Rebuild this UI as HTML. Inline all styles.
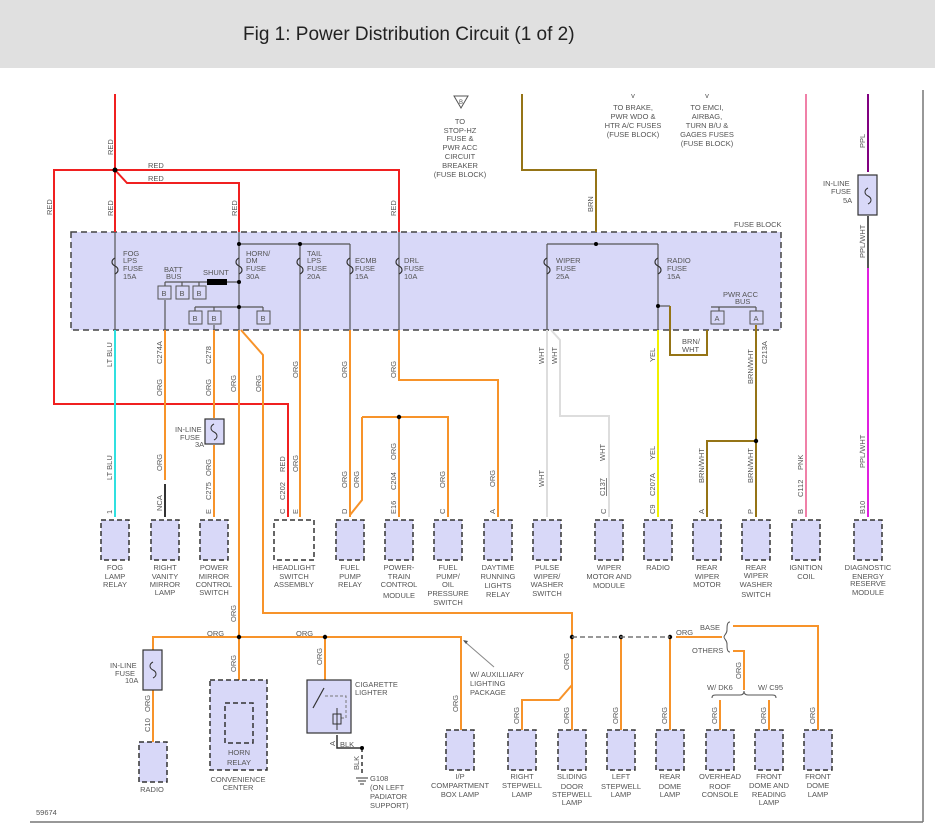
<!DOCTYPE html>
<html><head><meta charset="utf-8"><style>
body{margin:0;background:#fff}
svg{display:block}
text{font-family:"Liberation Sans",sans-serif;font-size:7.5px;fill:#555}
.t{text-anchor:middle}
.w{fill:none;stroke-width:2}
.g{fill:none;stroke:#555;stroke-width:1.2}
.bx{fill:#d8d8f8;stroke:#333;stroke-width:1.5;stroke-dasharray:5,3}
.bb{fill:#d8d8f8;stroke:#555;stroke-width:1}
</style></head><body>
<svg width="935" height="832" viewBox="0 0 935 832" xmlns="http://www.w3.org/2000/svg">
<rect x="0" y="0" width="935" height="68" fill="#e0e0e0"/>
<text x="243" y="40" style="font-size:19px;fill:#222">Fig 1: Power Distribution Circuit (1 of 2)</text>
<line x1="923" y1="90" x2="923" y2="822" stroke="#777" stroke-width="1.5"/>
<line x1="30" y1="822" x2="923" y2="822" stroke="#777" stroke-width="1.5"/>
<text x="36" y="815">59674</text>

<!-- fuse block -->
<rect x="71" y="232" width="710" height="98" fill="#d8d8f8" stroke="#444" stroke-width="1.5" stroke-dasharray="6,4"/>
<text x="734" y="227">FUSE BLOCK</text>

<!-- red wires -->
<g class="w" stroke="#f02020">
<path d="M115 94V232"/>
<path d="M115 170H399V232"/>
<path d="M115 170H54V404H288V517"/>
<path d="M115 170L127 183H239V232"/>
</g>
<circle cx="115" cy="170" r="2.5" fill="#000"/>
<text x="148" y="168">RED</text><text x="148" y="181">RED</text>
<g>
<text transform="translate(113,155) rotate(-90)">RED</text>
<text transform="translate(52,215) rotate(-90)">RED</text>
<text transform="translate(113,216) rotate(-90)">RED</text>
<text transform="translate(237,216) rotate(-90)">RED</text>
<text transform="translate(396,216) rotate(-90)">RED</text>
</g>

<!-- inside fuse block gray -->
<g class="g">
<path d="M115 232V330"/>
<path d="M239 232V330"/><path d="M239 244H350"/>
<path d="M300 244V330"/><path d="M350 244V330"/>
<path d="M399 232V330"/>
<path d="M165 282H239"/><path d="M165 282V288M182 282V288M199 282V288"/>
<path d="M165 300V330M214 325V330"/>
<path d="M195 307H263M195 307V311M214 307V311M263 307V311"/>
<path d="M547 244H658M547 244V330M658 244V330"/>
<path d="M658 306H670"/>
<path d="M711 307H756M719 307V311M756 307V311"/>
</g>
<rect x="207" y="279" width="20" height="6" fill="#000"/>
<g fill="#000">
<circle cx="239" cy="244" r="2"/><circle cx="300" cy="244" r="2"/><circle cx="239" cy="282" r="2"/><circle cx="239" cy="307" r="2"/>
<circle cx="596" cy="244" r="2"/><circle cx="658" cy="306" r="2"/>
</g>
<!-- fuse symbols -->
<g fill="none" stroke="#333" stroke-width="1.2">
<path d="M115 258c-4 2 -4 6 0 8c4 2 4 6 0 8"/>
<path d="M239 258c-4 2 -4 6 0 8c4 2 4 6 0 8"/>
<path d="M300 258c-4 2 -4 6 0 8c4 2 4 6 0 8"/>
<path d="M350 258c-4 2 -4 6 0 8c4 2 4 6 0 8"/>
<path d="M399 258c-4 2 -4 6 0 8c4 2 4 6 0 8"/>
<path d="M547 258c-4 2 -4 6 0 8c4 2 4 6 0 8"/>
<path d="M658 258c-4 2 -4 6 0 8c4 2 4 6 0 8"/>
</g>
<g class="bb"><rect x="158" y="286" width="13" height="13"/><rect x="176" y="286" width="13" height="13"/><rect x="193" y="286" width="13" height="13"/>
<rect x="189" y="311" width="13" height="13"/><rect x="208" y="311" width="13" height="13"/><rect x="257" y="311" width="13" height="13"/>
<rect x="711" y="311" width="13" height="13"/><rect x="750" y="311" width="13" height="13"/></g>
<g class="t"><text x="164" y="296">B</text><text x="182" y="296">B</text><text x="199" y="296">B</text>
<text x="195" y="321">B</text><text x="214" y="321">B</text><text x="263" y="321">B</text>
<text x="717" y="321">A</text><text x="756" y="321">A</text></g>
<text x="123" y="256">FOG</text><text x="123" y="263">LPS</text><text x="123" y="271">FUSE</text><text x="123" y="279">15A</text>
<text x="164" y="272">BATT</text><text x="166" y="279">BUS</text><text x="203" y="275">SHUNT</text>
<text x="246" y="256">HORN/</text><text x="246" y="263">DM</text><text x="246" y="271">FUSE</text><text x="246" y="279">30A</text>
<text x="307" y="256">TAIL</text><text x="307" y="263">LPS</text><text x="307" y="271">FUSE</text><text x="307" y="279">20A</text>
<text x="355" y="263">ECMB</text><text x="355" y="271">FUSE</text><text x="355" y="279">15A</text>
<text x="404" y="263">DRL</text><text x="404" y="271">FUSE</text><text x="404" y="279">10A</text>
<text x="556" y="263">WIPER</text><text x="556" y="271">FUSE</text><text x="556" y="279">25A</text>
<text x="667" y="263">RADIO</text><text x="667" y="271">FUSE</text><text x="667" y="279">15A</text>
<text x="723" y="297">PWR ACC</text><text x="735" y="304">BUS</text>

<!-- top texts -->
<path d="M454 96H468L461 108Z" fill="#fff" stroke="#555"/><text x="461" y="104" class="t" style="font-size:6px">B</text>
<g class="t"><text x="460" y="124">TO</text><text x="460" y="133">STOP-HZ</text><text x="460" y="141">FUSE &amp;</text><text x="460" y="150">PWR ACC</text><text x="460" y="159">CIRCUIT</text><text x="460" y="168">BREAKER</text><text x="460" y="177">(FUSE BLOCK)</text>
<text x="633" y="98">v</text><text x="633" y="110">TO BRAKE,</text><text x="633" y="119">PWR WDO &amp;</text><text x="633" y="128">HTR A/C FUSES</text><text x="633" y="137">(FUSE BLOCK)</text>
<text x="707" y="98">v</text><text x="707" y="110">TO EMCI,</text><text x="707" y="119">AIRBAG,</text><text x="707" y="128">TURN B/U &amp;</text><text x="707" y="137">GAGES FUSES</text><text x="707" y="146">(FUSE BLOCK)</text></g>

<!-- brown -->
<g class="w" stroke="#957416">
<path d="M522 94V170H596V232"/>
<path d="M670 306V355H707V330"/>
<path d="M756 325V517M756 441H707V517"/>
</g>
<circle cx="756" cy="441" r="2.2" fill="#000"/>
<text transform="translate(593,212) rotate(-90)">BRN</text>
<text x="682" y="344">BRN/</text><text x="682" y="352">WHT</text>
<text transform="translate(753,384) rotate(-90)">BRN/WHT</text>
<text transform="translate(767,364) rotate(-90)">C213A</text>
<text transform="translate(704,483) rotate(-90)">BRN/WHT</text>
<text transform="translate(753,483) rotate(-90)">BRN/WHT</text>

<!-- white -->
<g class="w" stroke="#ddd"><path d="M547 330V517"/><path d="M551 330L560 340V416H609V517"/></g>
<text transform="translate(544,364) rotate(-90)">WHT</text><text transform="translate(557,364) rotate(-90)">WHT</text>
<text transform="translate(544,487) rotate(-90)">WHT</text><text transform="translate(605,461) rotate(-90)">WHT</text>
<text transform="translate(605,496) rotate(-90)" style="text-decoration:underline">C137</text>

<!-- yellow -->
<path class="w" stroke="#f0f000" d="M658 330V517"/>
<text transform="translate(655,362) rotate(-90)">YEL</text><text transform="translate(655,460) rotate(-90)">YEL</text>
<text transform="translate(655,496) rotate(-90)">C207A</text>

<!-- pink / ppl -->
<path class="w" stroke="#f080a8" d="M806 94V517"/>
<path class="w" stroke="#800080" d="M868 94V172"/>
<path class="w" stroke="#555" d="M868 216V268"/>
<path class="w" stroke="#e020e0" d="M868 268V517"/>
<rect x="858" y="175" width="19" height="40" fill="#d8d8f8" stroke="#333" stroke-width="1.2"/>
<path d="M868 188c-4 2-4 6 0 8c4 2 4 6 0 8" fill="none" stroke="#333"/>
<text x="823" y="186">IN-LINE</text><text x="831" y="194">FUSE</text><text x="843" y="203">5A</text>
<text transform="translate(865,148) rotate(-90)">PPL</text>
<text transform="translate(865,258) rotate(-90)">PPL/WHT</text>
<text transform="translate(865,468) rotate(-90)">PPL/WHT</text>
<text transform="translate(803,470) rotate(-90)">PNK</text>
<text transform="translate(803,497) rotate(-90)">C112</text>

<!-- lt blu -->
<path class="w" stroke="#30e0e0" d="M115 330V517"/>
<text transform="translate(112,367) rotate(-90)">LT BLU</text><text transform="translate(112,480) rotate(-90)">LT BLU</text>

<!-- orange -->
<g class="w" stroke="#f7932a">
<path d="M165 330V480"/>
<path d="M214 330V418M214 445V517"/>
<path d="M239 330V639"/>
<path d="M241 330L263 355V613H572V685"/>
<path d="M300 330V517"/>
<path d="M350 330V517"/>
<path d="M399 330V380H498V517"/>
<path d="M362 417H448V517M362 417V500L350 515M399 417V517"/>
<path d="M153 650V637H461V730"/>
<path d="M153 690V742"/>
<path d="M239 639V702"/>
<path d="M325 637V680"/>
<path d="M572 685V730M572 685L559 700H522V730"/>
<path d="M621 637V730M670 637V730"/>
<path d="M676 637H722"/>
<path d="M733 626H818V730"/>
<path d="M733 651H744V690"/>
<path d="M720 700V730M769 700V730"/>
</g>
<path d="M165 484V517" stroke="#333" stroke-width="2"/>
<g fill="#000"><circle cx="399" cy="417" r="2.2"/><circle cx="239" cy="637" r="2.2"/><circle cx="325" cy="637" r="2.2"/>
<circle cx="572" cy="637" r="2.2"/><circle cx="621" cy="637" r="2.2"/><circle cx="670" cy="637" r="2.2"/></g>
<path d="M572 637H670" stroke="#777" stroke-width="1.5" stroke-dasharray="5,3"/>
<path d="M730 622c-3 0-3 4-3 8s-3 5-3 7c0 2 3 3 3 7s0 8 3 8" fill="none" stroke="#555"/>
<path d="M712 698c0-3 2-3 4-3H740c3 0 4-2 4-4c0 2 1 4 4 4H772c2 0 4 0 4 3" fill="none" stroke="#555"/>
<text x="700" y="630">BASE</text><text x="692" y="653">OTHERS</text><text x="676" y="635">ORG</text>
<text x="707" y="690">W/ DK6</text><text x="758" y="690">W/ C95</text>

<!-- inline fuse 3A -->
<rect x="205" y="419" width="19" height="25" fill="#d8d8f8" stroke="#333" stroke-width="1.2"/>
<path d="M214 424c-4 2-4 6 0 8c4 2 4 6 0 8" fill="none" stroke="#333"/>
<text x="175" y="432">IN-LINE</text><text x="180" y="440">FUSE</text><text x="195" y="447">3A</text>

<!-- orange labels -->
<g>
<text transform="translate(162,396) rotate(-90)">ORG</text><text transform="translate(162,364) rotate(-90)">C274A</text>
<text transform="translate(211,396) rotate(-90)">ORG</text><text transform="translate(211,364) rotate(-90)">C278</text>
<text transform="translate(236,392) rotate(-90)">ORG</text><text transform="translate(261,392) rotate(-90)">ORG</text>
<text transform="translate(298,378) rotate(-90)">ORG</text><text transform="translate(347,378) rotate(-90)">ORG</text>
<text transform="translate(396,378) rotate(-90)">ORG</text>
<text transform="translate(162,471) rotate(-90)">ORG</text><text transform="translate(162,511) rotate(-90)">NCA</text>
<text transform="translate(211,476) rotate(-90)">ORG</text><text transform="translate(211,500) rotate(-90)">C275</text>
<text transform="translate(285,472) rotate(-90)">RED</text><text transform="translate(298,472) rotate(-90)">ORG</text>
<text transform="translate(285,500) rotate(-90)">C202</text>
<text transform="translate(347,488) rotate(-90)">ORG</text><text transform="translate(359,488) rotate(-90)">ORG</text>
<text transform="translate(396,460) rotate(-90)">ORG</text><text transform="translate(396,490) rotate(-90)">C204</text>
<text transform="translate(445,488) rotate(-90)">ORG</text>
<text transform="translate(495,487) rotate(-90)">ORG</text>
<text transform="translate(236,622) rotate(-90)">ORG</text><text transform="translate(236,672) rotate(-90)">ORG</text>
<text transform="translate(322,665) rotate(-90)">ORG</text>
<text transform="translate(150,712) rotate(-90)">ORG</text><text transform="translate(150,732) rotate(-90)">C10</text>
<text transform="translate(458,712) rotate(-90)">ORG</text>
<text transform="translate(569,670) rotate(-90)">ORG</text><text transform="translate(569,724) rotate(-90)">ORG</text>
<text transform="translate(519,724) rotate(-90)">ORG</text><text transform="translate(618,724) rotate(-90)">ORG</text>
<text transform="translate(667,724) rotate(-90)">ORG</text><text transform="translate(717,724) rotate(-90)">ORG</text>
<text transform="translate(766,724) rotate(-90)">ORG</text><text transform="translate(815,724) rotate(-90)">ORG</text>
<text transform="translate(741,679) rotate(-90)">ORG</text>
</g>
<text x="207" y="636">ORG</text><text x="296" y="636">ORG</text>
<!-- pin letters -->
<g>
<text transform="translate(112,514) rotate(-90)">1</text><text transform="translate(211,514) rotate(-90)">E</text>
<text transform="translate(285,514) rotate(-90)">C</text><text transform="translate(298,514) rotate(-90)">E</text>
<text transform="translate(347,514) rotate(-90)">D</text><text transform="translate(396,514) rotate(-90)">E16</text>
<text transform="translate(445,514) rotate(-90)">C</text><text transform="translate(495,514) rotate(-90)">A</text>
<text transform="translate(606,514) rotate(-90)">C</text><text transform="translate(655,514) rotate(-90)">C9</text>
<text transform="translate(704,514) rotate(-90)">A</text><text transform="translate(753,514) rotate(-90)">P</text>
<text transform="translate(803,514) rotate(-90)">B</text><text transform="translate(865,514) rotate(-90)">B10</text>
</g>

<!-- component boxes row 1 -->
<g class="bx">
<rect x="101" y="520" width="28" height="40"/><rect x="151" y="520" width="28" height="40"/><rect x="200" y="520" width="28" height="40"/>
<rect x="274" y="520" width="40" height="40" style="fill:#fff"/>
<rect x="336" y="520" width="28" height="40"/><rect x="385" y="520" width="28" height="40"/><rect x="434" y="520" width="28" height="40"/>
<rect x="484" y="520" width="28" height="40"/><rect x="533" y="520" width="28" height="40"/><rect x="595" y="520" width="28" height="40"/>
<rect x="644" y="520" width="28" height="40"/><rect x="693" y="520" width="28" height="40"/><rect x="742" y="520" width="28" height="40"/>
<rect x="792" y="520" width="28" height="40"/><rect x="854" y="520" width="28" height="40"/>
</g>
<g class="t">
<text x="115" y="570">FOG</text><text x="115" y="579">LAMP</text><text x="115" y="587">RELAY</text>
<text x="165" y="570">RIGHT</text><text x="165" y="579">VANITY</text><text x="165" y="587">MIRROR</text><text x="165" y="595">LAMP</text>
<text x="214" y="570">POWER</text><text x="214" y="579">MIRROR</text><text x="214" y="587">CONTROL</text><text x="214" y="595">SWITCH</text>
<text x="294" y="570">HEADLIGHT</text><text x="294" y="579">SWITCH</text><text x="294" y="587">ASSEMBLY</text>
<text x="350" y="570">FUEL</text><text x="350" y="579">PUMP</text><text x="350" y="587">RELAY</text>
<text x="399" y="570">POWER-</text><text x="399" y="579">TRAIN</text><text x="399" y="587">CONTROL</text><text x="399" y="598">MODULE</text>
<text x="448" y="570">FUEL</text><text x="448" y="579">PUMP/</text><text x="448" y="587">OIL</text><text x="448" y="596">PRESSURE</text><text x="448" y="605">SWITCH</text>
<text x="498" y="570">DAYTIME</text><text x="498" y="579">RUNNING</text><text x="498" y="588">LIGHTS</text><text x="498" y="597">RELAY</text>
<text x="547" y="570">PULSE</text><text x="547" y="579">WIPER/</text><text x="547" y="587">WASHER</text><text x="547" y="596">SWITCH</text>
<text x="609" y="570">WIPER</text><text x="609" y="579">MOTOR AND</text><text x="609" y="588">MODULE</text>
<text x="658" y="570">RADIO</text>
<text x="707" y="570">REAR</text><text x="707" y="579">WIPER</text><text x="707" y="587">MOTOR</text>
<text x="756" y="570">REAR</text><text x="756" y="578">WIPER</text><text x="756" y="587">WASHER</text><text x="756" y="597">SWITCH</text>
<text x="806" y="570">IGNITION</text><text x="806" y="579">COIL</text>
<text x="868" y="570">DIAGNOSTIC</text><text x="868" y="579">ENERGY</text><text x="868" y="586">RESERVE</text><text x="868" y="595">MODULE</text>
</g>

<!-- bottom section -->
<rect x="143" y="650" width="19" height="40" fill="#d8d8f8" stroke="#333" stroke-width="1.2"/>
<path d="M153 662c-4 2-4 6 0 8c4 2 4 6 0 8" fill="none" stroke="#333"/>
<text x="110" y="668">IN-LINE</text><text x="115" y="676">FUSE</text><text x="125" y="683">10A</text>
<g class="bx">
<rect x="139" y="742" width="28" height="40"/>
<rect x="210" y="680" width="57" height="90"/>
<rect x="225" y="703" width="28" height="40"/>
<rect x="446" y="730" width="28" height="40"/>
<rect x="508" y="730" width="28" height="40"/><rect x="558" y="730" width="28" height="40"/><rect x="607" y="730" width="28" height="40"/>
<rect x="656" y="730" width="28" height="40"/><rect x="706" y="730" width="28" height="40"/><rect x="755" y="730" width="28" height="40"/><rect x="804" y="730" width="28" height="40"/>
</g>
<rect x="307" y="680" width="44" height="53" fill="#d8d8f8" stroke="#333" stroke-width="1.2"/>
<path d="M313 708L324 688" stroke="#333" stroke-width="1.2"/>
<path d="M325 696H346V718H341" fill="none" stroke="#777" stroke-dasharray="3,2"/>
<path d="M337 708V730M333 714h8v10h-8z" fill="none" stroke="#333"/>
<path d="M337 735V748H362" fill="none" stroke="#333" stroke-width="1.5"/>
<path d="M362 748V775" stroke="#333" stroke-width="1.5" stroke-dasharray="4,3"/>
<path d="M356 778h12M358 781h8M360 784h4" stroke="#333"/>
<circle cx="362" cy="748" r="2" fill="#000"/>
<text x="355" y="687">CIGARETTE</text><text x="355" y="695">LIGHTER</text>
<text x="340" y="747">BLK</text><text transform="translate(335,746) rotate(-90)">A</text>
<text transform="translate(359,770) rotate(-90)">BLK</text>
<text x="370" y="781">G108</text><text x="370" y="790">(ON LEFT</text><text x="370" y="799">PADIATOR</text><text x="370" y="808">SUPPORT)</text>
<line x1="494" y1="667" x2="464" y2="641" stroke="#888"/>
<path d="M463 640l5 1-2 3z" fill="#555"/>
<text x="470" y="677">W/ AUXILLIARY</text><text x="470" y="686">LIGHTING</text><text x="470" y="695">PACKAGE</text>
<g class="t">
<text x="152" y="792">RADIO</text>
<text x="239" y="755">HORN</text><text x="239" y="765">RELAY</text>
<text x="238" y="782">CONVENIENCE</text><text x="238" y="790">CENTER</text>
<text x="460" y="779">I/P</text><text x="460" y="788">COMPARTMENT</text><text x="460" y="797">BOX LAMP</text>
<text x="522" y="779">RIGHT</text><text x="522" y="788">STEPWELL</text><text x="522" y="797">LAMP</text>
<text x="572" y="779">SLIDING</text><text x="572" y="789">DOOR</text><text x="572" y="797">STEPWELL</text><text x="572" y="805">LAMP</text>
<text x="621" y="779">LEFT</text><text x="621" y="789">STEPWELL</text><text x="621" y="797">LAMP</text>
<text x="670" y="779">REAR</text><text x="670" y="789">DOME</text><text x="670" y="797">LAMP</text>
<text x="720" y="779">OVERHEAD</text><text x="720" y="789">ROOF</text><text x="720" y="797">CONSOLE</text>
<text x="769" y="779">FRONT</text><text x="769" y="788">DOME AND</text><text x="769" y="797">READING</text><text x="769" y="805">LAMP</text>
<text x="818" y="779">FRONT</text><text x="818" y="788">DOME</text><text x="818" y="797">LAMP</text>
</g>
</svg>
</body></html>
